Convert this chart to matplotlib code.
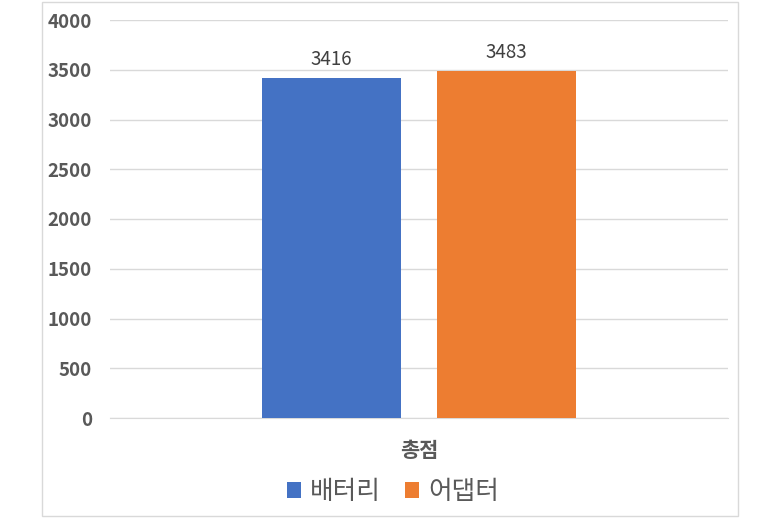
import matplotlib.pyplot as plt
from matplotlib.patches import Rectangle

# chart data
categories = ['총점']
series_names = ['배터리', '어댑터']
series_values = [[3416], [3483]]
series_colors = ['#4472C4', '#ED7D31']
y_ticks = [0, 500, 1000, 1500, 2000, 2500, 3000, 3500, 4000]

plt.rcParams['font.family'] = ['Noto Sans CJK KR', 'DejaVu Sans']

fig = plt.figure(figsize=(7.8, 5.19), dpi=100, facecolor='white')
ax = fig.add_axes([110 / 780, 1 - 418 / 519, 618 / 780, 398 / 519])

# chart border like excel
fig.patches.append(Rectangle((42 / 780, 1 - 516 / 519), 696 / 780, 514 / 519,
                             transform=fig.transFigure, fill=False,
                             edgecolor='#D9D9D9', linewidth=1))

width = 0.225
offsets = [-0.142, 0.142]
for name, vals, col, off in zip(series_names, series_values, series_colors, offsets):
    xs = [i + off for i in range(len(categories))]
    bars = ax.bar(xs, vals, width=width, color=col, label=name, zorder=3)
    for b, v in zip(bars, vals):
        ax.annotate(str(v), (b.get_x() + b.get_width() / 2, b.get_height()),
                    xytext=(0, 6), textcoords='offset points',
                    ha='center', va='bottom', fontsize=13.5, color='#404040')

ax.set_xlim(-0.5, len(categories) - 0.5)
ax.set_ylim(0, 4000)
ax.set_yticks(y_ticks)
ax.set_yticklabels([str(t) for t in y_ticks], fontsize=13.5, fontweight='bold', color='#595959')
ax.set_xticks(range(len(categories)))
ax.set_xticklabels(categories, fontsize=15, fontweight='bold', color='#595959')
ax.tick_params(axis='y', length=0, pad=13)
ax.tick_params(axis='x', length=0, pad=16)
ax.grid(axis='y', color='#D9D9D9', linewidth=1, zorder=0)
for s in ['top', 'right', 'left']:
    ax.spines[s].set_visible(False)
ax.spines['bottom'].set_color('#D9D9D9')

leg = fig.legend(loc='center', bbox_to_anchor=(393 / 780, 1 - 492 / 519), ncol=2,
                 frameon=False, fontsize=18.5, handlelength=0.55, handleheight=0.55,
                 handletextpad=0.35, columnspacing=0.95)
for t in leg.get_texts():
    t.set_color('#595959')

plt.savefig('out.png', dpi=100, facecolor='white')
